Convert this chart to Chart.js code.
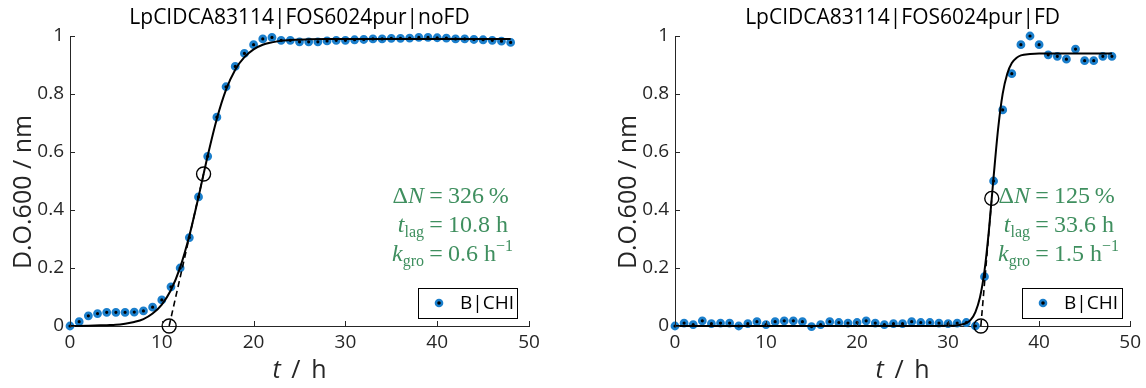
<!DOCTYPE html>
<html>
<head>
<meta charset="utf-8">
<script src="https://cdn.jsdelivr.net/npm/chart.js@4.4.1/dist/chart.umd.min.js"></script>
<style>
  html, body { margin: 0; padding: 0; background: #fff; }
  #wrap { position: relative; width: 1146px; height: 388px; }
  .panel { position: absolute; top: 0; width: 573px; height: 388px; }
</style>
</head>
<body>
<div id="wrap">
  <div class="panel" style="left:0"><canvas id="chartNoFD" width="573" height="388"></canvas></div>
  <div class="panel" style="left:573px"><canvas id="chartFD" width="573" height="388"></canvas></div>
</div>
<script>
// --- data ---
const hours = [0,1,2,3,4,5,6,7,8,9,10,11,12,13,14,15,16,17,18,19,20,21,22,23,24,
               25,26,27,28,29,30,31,32,33,34,35,36,37,38,39,40,41,42,43,44,45,46,47,48];

// measured OD, without FD
const odNoFD = [0.000,0.015,0.035,0.043,0.047,0.047,0.047,0.048,0.052,0.065,0.090,0.135,0.200,0.305,0.445,0.585,0.720,0.825,0.895,0.940,
                0.970,0.990,0.995,0.985,0.985,0.980,0.980,0.980,0.983,0.985,0.985,0.987,0.988,0.990,0.990,0.992,0.992,0.993,0.995,0.995,
                0.994,0.993,0.990,0.990,0.988,0.987,0.985,0.982,0.978];

// measured OD, with FD
const odFD = [0.000,0.010,0.005,0.018,0.008,0.010,0.010,0.000,0.008,0.015,0.005,0.015,0.018,0.018,0.015,-0.002,0.005,0.015,0.012,0.010,
              0.012,0.018,0.010,0.005,0.008,0.008,0.015,0.012,0.012,0.010,0.008,0.010,0.012,0.000,0.170,0.500,0.745,0.870,0.970,1.000,
              0.970,0.935,0.930,0.920,0.955,0.915,0.915,0.930,0.930];

// fitted growth curves
const fitHoursNoFD = [0,2,4,5,6,7,8,9,10,11,12,13,14,15,16,17,18,19,20,21,22,23,24,26,28,32,40,48];
const fitNoFD      = [0.000,0.001,0.003,0.004,0.008,0.014,0.024,0.043,0.074,0.124,0.202,0.311,0.445,0.587,0.715,0.815,0.884,0.927,
                      0.954,0.970,0.978,0.984,0.986,0.989,0.990,0.990,0.990,0.990];
const fitHoursFD = [0,10,20,28,30,31,31.5,32,32.5,33,33.5,34,34.5,35,35.5,36,36.5,37,37.5,38,39,40,44,48];
const fitFD      = [0,0,0,0,0.001,0.002,0.005,0.010,0.022,0.048,0.098,0.190,0.335,0.514,0.681,0.801,0.870,0.907,0.924,0.933,
                    0.938,0.940,0.940,0.940];

// lag point and inflection point (t, OD)
const lagNoFD = [10.8, 0];
const inflNoFD = [14.55, 0.524];
const lagFD = [33.6, 0];
const inflFD = [34.8, 0.44];

const xTicks = [0, 10, 20, 30, 40, 50];
const yTicks = [0, 0.2, 0.4, 0.6, 0.8, 1];

const titles = ['LpCIDCA83114|FOS6024pur|noFD', 'LpCIDCA83114|FOS6024pur|FD'];
const deltaN = ['326', '125'];
const tLag = ['10.8', '33.6'];
const kGro = ['0.6', '1.5'];
const seriesName = 'B|CHI';

// --- styles ---
const AXIS = '#262626';
const BLUE = '#1b7fcc';
const GREEN = '#3f8f5f';
const SANS = '"Open Sans", sans-serif';
const SERIF = '"Liberation Serif", serif';

const pts = (xs, ys) => xs.map((x, i) => ({ x: x, y: ys[i] }));

// ticks drawn inside the axes, like MATLAB
const inwardTicks = {
    id: 'inwardTicks',
    afterDatasetsDraw(chart) {
        const { ctx, chartArea: a, scales: { x, y } } = chart;
        ctx.save();
        ctx.strokeStyle = AXIS;
        ctx.lineWidth = 1;
        ctx.beginPath();
        x.ticks.forEach(t => {
            const px = Math.round(x.getPixelForValue(t.value)) + 0.5;
            ctx.moveTo(px, a.bottom); ctx.lineTo(px, a.bottom - 5);
        });
        y.ticks.forEach(t => {
            const py = Math.round(y.getPixelForValue(t.value)) + 0.5;
            ctx.moveTo(a.left, py); ctx.lineTo(a.left + 5, py);
        });
        ctx.stroke();
        ctx.restore();
    }
};

function drawRun(ctx, parts, x, base) {
    parts.forEach(p => {
        ctx.font = p.f;
        ctx.fillText(p.t, x, base + (p.dy || 0));
        x += ctx.measureText(p.t).width;
    });
    return x;
}
function runWidth(ctx, parts) {
    let w = 0;
    parts.forEach(p => { ctx.font = p.f; w += ctx.measureText(p.t).width; });
    return w;
}

// titles, axis labels, green fit results, legend box
const decorations = {
    id: 'decorations',
    afterDraw(chart, args, o) {
        const { ctx, chartArea: a } = chart;
        const cx = (a.left + a.right) / 2;
        ctx.save();

        // title
        ctx.fillStyle = '#000';
        ctx.font = '21px ' + SANS;
        ctx.textAlign = 'center';
        ctx.textBaseline = 'middle';
        ctx.fillText(o.title, cx, 18);

        // y label
        ctx.fillStyle = AXIS;
        ctx.save();
        ctx.translate(o.yLabelX, 192);
        ctx.rotate(-Math.PI / 2);
        ctx.font = '25px ' + SANS;
        ctx.fillText('D.O.600 / nm', 0, 0);
        ctx.restore();

        // x label "t / h"
        ctx.textAlign = 'left';
        ctx.textBaseline = 'alphabetic';
        const xl = [{ t: 't', f: 'italic 25px ' + SANS }, { t: ' \u2009/\u2009 h', f: '25px ' + SANS }];
        drawRun(ctx, xl, cx - runWidth(ctx, xl) / 2, 378);

        // fit results
        ctx.fillStyle = GREEN;
        const rm = '24px ' + SERIF, it = 'italic 24px ' + SERIF, sm = '16px ' + SERIF;
        const rows = [
            [[{ t: '\u0394', f: rm }, { t: 'N', f: it }], [{ t: o.dN + '\u2009%', f: rm }]],
            [[{ t: 't', f: it }, { t: 'lag', f: sm, dy: 5 }], [{ t: o.lag + ' h', f: rm }]],
            [[{ t: 'k', f: it }, { t: 'gro', f: sm, dy: 5 }], [{ t: o.k + ' h', f: rm }, { t: '\u22121', f: sm, dy: -10 }]]
        ];
        const bases = [203, 232, 261];
        rows.forEach((r, i) => {
            drawRun(ctx, r[0], o.eqX - 12 - runWidth(ctx, r[0]), bases[i]);
            ctx.font = rm;
            ctx.textAlign = 'center';
            ctx.fillText('=', o.eqX, bases[i]);
            ctx.textAlign = 'left';
            drawRun(ctx, r[1], o.eqX + 12, bases[i]);
        });

        // legend box
        const lb = o.legend;
        ctx.fillStyle = '#fff';
        ctx.fillRect(lb.x, lb.y, lb.w, lb.h);
        ctx.strokeStyle = '#000';
        ctx.lineWidth = 1;
        ctx.strokeRect(lb.x + 0.5, lb.y + 0.5, lb.w, lb.h);
        const my = lb.y + lb.h / 2;
        ctx.fillStyle = BLUE;
        ctx.beginPath(); ctx.arc(lb.x + 21, my, 4.3, 0, Math.PI * 2); ctx.fill();
        ctx.fillStyle = '#000';
        ctx.beginPath(); ctx.arc(lb.x + 21, my, 1.8, 0, Math.PI * 2); ctx.fill();
        ctx.fillStyle = '#000';
        ctx.font = '19px ' + SANS;
        ctx.textBaseline = 'middle';
        ctx.fillText(seriesName, lb.x + 42, my + 1);

        ctx.restore();
    }
};

function makeChart(id, cfg) {
    return new Chart(document.getElementById(id), {
        type: 'scatter',
        data: {
            datasets: [
                {
                    type: 'line',
                    data: pts(cfg.fitX, cfg.fitY),
                    borderColor: '#000',
                    borderWidth: 2,
                    pointRadius: 0,
                    cubicInterpolationMode: 'monotone',
                    fill: false,
                    clip: false,
                    order: 1
                },
                {
                    type: 'line',
                    data: [{ x: cfg.lag[0], y: cfg.lag[1] }, { x: cfg.infl[0], y: cfg.infl[1] }],
                    borderColor: '#000',
                    borderWidth: 1.6,
                    borderDash: [6, 4],
                    pointRadius: 0,
                    fill: false,
                    order: 1
                },
                {
                    data: [{ x: cfg.lag[0], y: cfg.lag[1] }, { x: cfg.infl[0], y: cfg.infl[1] }],
                    pointRadius: 7,
                    pointBorderWidth: 1.4,
                    pointBorderColor: '#000',
                    pointBackgroundColor: 'rgba(0,0,0,0)',
                    clip: false,
                    order: 0
                },
                {
                    data: pts(hours, cfg.od),
                    pointRadius: 3,
                    pointBorderWidth: 2.8,
                    pointBorderColor: BLUE,
                    pointBackgroundColor: '#000',
                    clip: false,
                    order: 3
                }
            ]
        },
        options: {
            responsive: false,
            animation: false,
            devicePixelRatio: 1,
            events: [],
            layout: { padding: { top: 36, right: cfg.padRight, bottom: 0, left: 0 } },
            plugins: {
                legend: { display: false },
                tooltip: { enabled: false },
                decorations: cfg.deco
            },
            scales: {
                x: {
                    type: 'linear', min: 0, max: 50,
                    afterBuildTicks: s => { s.ticks = xTicks.map(v => ({ value: v })); },
                    afterFit: s => { s.height = 62; },
                    ticks: { color: AXIS, font: { family: SANS, size: 19 }, padding: 5, maxRotation: 0, callback: v => String(v) },
                    grid: { display: false, drawTicks: false },
                    border: { display: true, color: AXIS, width: 1 }
                },
                y: {
                    type: 'linear', min: 0, max: 1,
                    afterBuildTicks: s => { s.ticks = yTicks.map(v => ({ value: v })); },
                    afterFit: s => { s.width = cfg.yWidth; },
                    ticks: { color: AXIS, font: { family: SANS, size: 19 }, padding: 6, callback: v => String(v) },
                    grid: { display: false, drawTicks: false },
                    border: { display: true, color: AXIS, width: 1 }
                }
            }
        },
        plugins: [inwardTicks, decorations]
    });
}

makeChart('chartNoFD', {
    od: odNoFD, fitX: fitHoursNoFD, fitY: fitNoFD, lag: lagNoFD, infl: inflNoFD,
    yWidth: 70, padRight: 44,
    deco: { title: titles[0], yLabelX: 24, eqX: 436, dN: deltaN[0], lag: tLag[0], k: kGro[0],
            legend: { x: 418, y: 288, w: 99, h: 30 } }
});

makeChart('chartFD', {
    od: odFD, fitX: fitHoursFD, fitY: fitFD, lag: lagFD, infl: inflFD,
    yWidth: 102, padRight: 15,
    deco: { title: titles[1], yLabelX: 56, eqX: 469, dN: deltaN[1], lag: tLag[1], k: kGro[1],
            legend: { x: 449, y: 288, w: 100, h: 30 } }
});
</script>
</body>
</html>
